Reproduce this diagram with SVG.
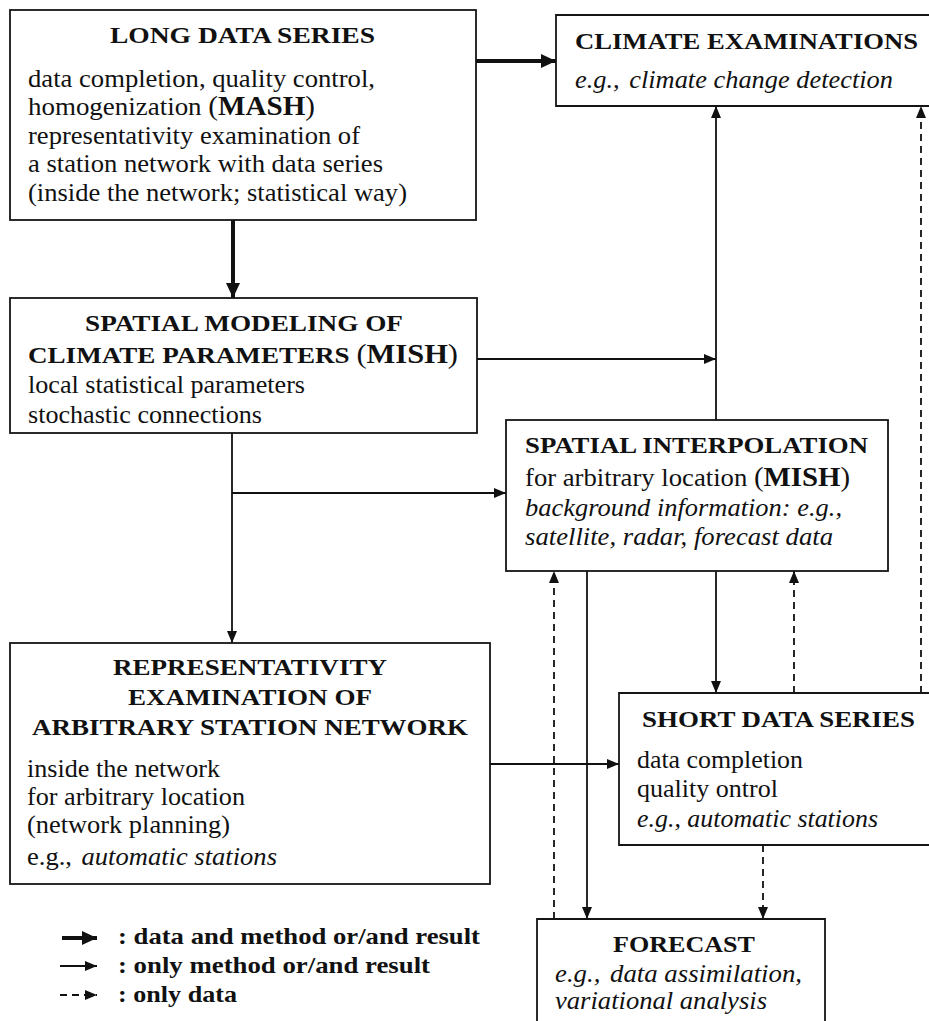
<svg xmlns="http://www.w3.org/2000/svg" width="929" height="1021" viewBox="0 0 929 1021">
<defs>
<style>
.box{fill:#fff;stroke:#151515;stroke-width:1.8}
text{font-family:'Liberation Serif','Times New Roman',serif;fill:#111;font-size:25px}
.t{font-weight:bold;font-size:24px}
.i{font-style:italic}
.big{font-size:27px}
.lg{font-weight:bold;font-size:24px}
.thick{stroke:#111;stroke-width:4;fill:none}
.thin{stroke:#111;stroke-width:1.8;fill:none}
.dash{stroke:#111;stroke-width:1.8;fill:none;stroke-dasharray:7 5}
</style>
<marker id="ah" viewBox="0 0 12 12" refX="12" refY="6" markerWidth="12" markerHeight="12" markerUnits="userSpaceOnUse" orient="auto">
<path d="M0,1 L12,6 L0,11 Z" fill="#111"/>
</marker>
<marker id="ahT" viewBox="0 0 15 14" refX="15" refY="7" markerWidth="15" markerHeight="14" markerUnits="userSpaceOnUse" orient="auto">
<path d="M0,0 L15,7 L0,14 Z" fill="#111"/>
</marker>
</defs>
<rect width="929" height="1021" fill="#fff"/>

<g id="connectors">
<line class="thick" x1="476" y1="61" x2="556" y2="61" marker-end="url(#ahT)"/>
<line class="thick" x1="233" y1="220" x2="233" y2="298" marker-end="url(#ahT)"/>
<line class="thin" x1="477" y1="359" x2="716" y2="359" marker-end="url(#ah)"/>
<line class="thin" x1="716" y1="420" x2="716" y2="106" marker-end="url(#ah)"/>
<line class="thin" x1="232" y1="433" x2="232" y2="643" marker-end="url(#ah)"/>
<line class="thin" x1="232" y1="493" x2="506" y2="493" marker-end="url(#ah)"/>
<line class="thin" x1="490" y1="764" x2="619" y2="764" marker-end="url(#ah)"/>
<line class="thin" x1="716" y1="571" x2="716" y2="693" marker-end="url(#ah)"/>
<line class="thin" x1="587" y1="571" x2="587" y2="919" marker-end="url(#ah)"/>
<line class="dash" x1="554" y1="919" x2="554" y2="571" marker-end="url(#ah)"/>
<line class="dash" x1="794" y1="693" x2="794" y2="571" marker-end="url(#ah)"/>
<line class="dash" x1="921" y1="693" x2="921" y2="106" marker-end="url(#ah)"/>
<line class="dash" x1="763" y1="845" x2="763" y2="919" marker-end="url(#ah)"/>
</g>

<g id="long-data-series">
<rect class="box" x="10" y="10" width="466" height="210"/>
<text class="t" x="110" y="43" textLength="265" lengthAdjust="spacingAndGlyphs">LONG DATA SERIES</text>
<text x="28" y="87" textLength="347" lengthAdjust="spacingAndGlyphs">data completion, quality control,</text>
<text x="28" y="115" textLength="287" lengthAdjust="spacingAndGlyphs">homogenization <tspan class="big">(</tspan><tspan class="big" font-weight="bold">MASH</tspan><tspan class="big">)</tspan></text>
<text x="28" y="144" textLength="332" lengthAdjust="spacingAndGlyphs">representativity examination of</text>
<text x="28" y="172" textLength="355" lengthAdjust="spacingAndGlyphs">a station network with data series</text>
<text x="28" y="201" textLength="379" lengthAdjust="spacingAndGlyphs">(inside the network; statistical way)</text>
</g>

<g id="climate-examinations">
<path class="box" d="M932,15 H556 V106 H932"/>
<text class="t" x="575" y="49" textLength="343" lengthAdjust="spacingAndGlyphs">CLIMATE EXAMINATIONS</text>
<text class="i" x="575" y="88" textLength="318" lengthAdjust="spacingAndGlyphs">e.g.,<tspan dx="9">climate change detection</tspan></text>
</g>

<g id="spatial-modeling">
<rect class="box" x="10" y="298" width="467" height="135"/>
<text class="t" x="85" y="331" textLength="318" lengthAdjust="spacingAndGlyphs">SPATIAL MODELING OF</text>
<text class="t" x="28" y="363" textLength="430" lengthAdjust="spacingAndGlyphs">CLIMATE PARAMETERS <tspan class="big" font-weight="normal">(</tspan><tspan class="big">MISH</tspan><tspan class="big" font-weight="normal">)</tspan></text>
<text x="28" y="393" textLength="277" lengthAdjust="spacingAndGlyphs">local statistical parameters</text>
<text x="28" y="423" textLength="234" lengthAdjust="spacingAndGlyphs">stochastic connections</text>
</g>

<g id="spatial-interpolation">
<rect class="box" x="506" y="420" width="382" height="151"/>
<text class="t" x="525" y="453" textLength="343" lengthAdjust="spacingAndGlyphs">SPATIAL INTERPOLATION</text>
<text x="525" y="486" textLength="325" lengthAdjust="spacingAndGlyphs">for arbitrary location <tspan class="big">(</tspan><tspan class="big" font-weight="bold">MISH</tspan><tspan class="big">)</tspan></text>
<text class="i" x="525" y="516" textLength="317" lengthAdjust="spacingAndGlyphs">background information: e.g.,</text>
<text class="i" x="525" y="545" textLength="308" lengthAdjust="spacingAndGlyphs">satellite, radar, forecast data</text>
</g>

<g id="representativity">
<rect class="box" x="10" y="643" width="480" height="241"/>
<text class="t" x="113" y="675" textLength="274" lengthAdjust="spacingAndGlyphs">REPRESENTATIVITY</text>
<text class="t" x="128" y="705" textLength="244" lengthAdjust="spacingAndGlyphs">EXAMINATION OF</text>
<text class="t" x="32" y="735" textLength="436" lengthAdjust="spacingAndGlyphs">ARBITRARY STATION NETWORK</text>
<text x="27" y="777" textLength="193" lengthAdjust="spacingAndGlyphs">inside the network</text>
<text x="27" y="805" textLength="218" lengthAdjust="spacingAndGlyphs">for arbitrary location</text>
<text x="27" y="833" textLength="203" lengthAdjust="spacingAndGlyphs">(network planning)</text>
<text x="27" y="865" textLength="250" lengthAdjust="spacingAndGlyphs">e.g.,<tspan class="i" dx="9">automatic stations</tspan></text>
</g>

<g id="short-data-series">
<path class="box" d="M932,693 H619 V845 H932"/>
<text class="t" x="642" y="727" textLength="273" lengthAdjust="spacingAndGlyphs">SHORT DATA SERIES</text>
<text x="637" y="768" textLength="166" lengthAdjust="spacingAndGlyphs">data completion</text>
<text x="637" y="797" textLength="141" lengthAdjust="spacingAndGlyphs">quality ontrol</text>
<text class="i" x="637" y="827" textLength="241" lengthAdjust="spacingAndGlyphs">e.g., automatic stations</text>
</g>

<g id="forecast">
<path class="box" d="M537,1024 V919 H825 V1024"/>
<text class="t" x="613" y="952" textLength="142" lengthAdjust="spacingAndGlyphs">FORECAST</text>
<text class="i" x="555" y="982" textLength="247" lengthAdjust="spacingAndGlyphs">e.g.,<tspan dx="9">data assimilation,</tspan></text>
<text class="i" x="555" y="1009" textLength="212" lengthAdjust="spacingAndGlyphs">variational analysis</text>
</g>

<g id="legend">
<line class="thick" x1="62" y1="938" x2="97" y2="938" marker-end="url(#ahT)"/>
<line class="thin" x1="60" y1="966" x2="97" y2="966" marker-end="url(#ah)"/>
<line class="dash" x1="60" y1="995" x2="97" y2="995" marker-end="url(#ah)" stroke-dasharray="6 5"/>
<text class="lg" x="118" y="944" textLength="362" lengthAdjust="spacingAndGlyphs">: data and method or/and result</text>
<text class="lg" x="118" y="973" textLength="312" lengthAdjust="spacingAndGlyphs">: only method or/and result</text>
<text class="lg" x="118" y="1002" textLength="119" lengthAdjust="spacingAndGlyphs">: only data</text>
</g>
</svg>
